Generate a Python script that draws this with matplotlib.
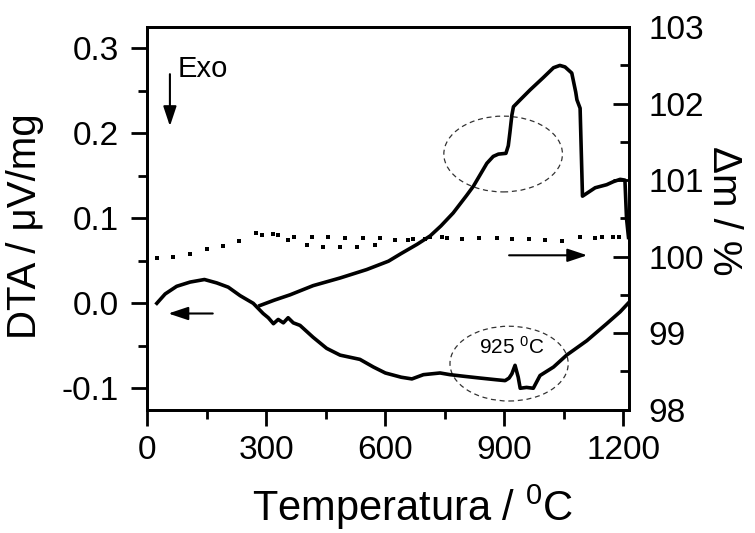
import matplotlib
matplotlib.use("Agg")
import matplotlib.pyplot as plt
from matplotlib.patches import Ellipse
from matplotlib.ticker import MultipleLocator

plt.rcParams["font.family"] = ["Liberation Sans", "DejaVu Sans"]
plt.rcParams["mathtext.fontset"] = "custom"
plt.rcParams["mathtext.rm"] = "Liberation Sans"
plt.rcParams["mathtext.it"] = "Liberation Sans"

# DTA curve (left axis)
dta_t = [24, 45, 74, 108, 144, 175, 204, 234, 267, 292, 305, 318, 330, 343, 355,
         368, 385, 418, 452, 486, 536, 570, 600, 640, 667, 696, 738, 763, 800,
         839, 880, 902, 912, 919, 927, 935, 940, 956, 973, 990, 1024, 1057, 1108,
         1158, 1192, 1212]
dta_v = [0.000, 0.011, 0.020, 0.025, 0.028, 0.024, 0.019, 0.009, 0.000, -0.012,
         -0.017, -0.024, -0.019, -0.023, -0.017, -0.023, -0.026, -0.040, -0.053,
         -0.061, -0.066, -0.075, -0.082, -0.087, -0.089, -0.084, -0.082, -0.084,
         -0.086, -0.088, -0.090, -0.091, -0.088, -0.083, -0.073, -0.087, -0.100,
         -0.099, -0.100, -0.085, -0.075, -0.061, -0.044, -0.024, -0.010, 0.000]

# mass change curve (right axis)
tg_t = [284, 320, 360, 418, 486, 553, 608, 640, 680, 713, 740, 771, 805, 822,
        839, 856, 872, 885, 904, 910, 914, 919, 923, 940, 965, 998, 1024, 1040,
        1053, 1070, 1080, 1083, 1091, 1097, 1129, 1158, 1175, 1192, 1204, 1208,
        1213]
tg_v = [99.36, 99.43, 99.50, 99.62, 99.72, 99.83, 99.94, 100.04, 100.16, 100.27,
        100.40, 100.57, 100.80, 100.92, 101.07, 101.22, 101.31, 101.34, 101.35,
        101.45, 101.62, 101.85, 101.96, 102.05, 102.18, 102.34, 102.47, 102.50,
        102.48, 102.40, 102.15, 102.05, 101.94, 100.79, 100.90, 100.94, 100.98,
        101.01, 101.00, 100.50, 100.25]

# dotted reference trace (right axis)
dot_t = [24, 66, 108, 150, 192, 232, 274, 288, 318, 330, 355, 370, 402, 414,
         444, 456, 486, 498, 528, 543, 574, 587, 624, 658, 671, 700, 713, 742,
         755, 793, 835, 881, 919, 961, 1003, 1045, 1091, 1129, 1146, 1175, 1189]
dot_v = [99.98, 99.99, 100.04, 100.10, 100.14, 100.21, 100.31, 100.28, 100.30,
         100.28, 100.22, 100.26, 100.15, 100.25, 100.13, 100.25, 100.12, 100.24,
         100.12, 100.24, 100.15, 100.24, 100.22, 100.22, 100.23, 100.23, 100.25,
         100.25, 100.24, 100.23, 100.24, 100.24, 100.23, 100.23, 100.22, 100.21,
         100.25, 100.24, 100.26, 100.25, 100.25]

fig = plt.figure(figsize=(7.55, 5.33), dpi=100)
ax = fig.add_axes([0.1951, 0.2317, 0.6384, 0.7173])
ax2 = ax.twinx()

ax.plot(dta_t, dta_v, color="black", lw=2.6)
ax2.plot(tg_t, tg_v, color="black", lw=2.6)
ax2.plot(dot_t, dot_v, ls="none", marker="s", ms=2.5, mew=0, color="black")

ax.set_xlim(0, 1215)
ax.set_ylim(-0.125, 0.325)
ax2.set_ylim(98, 103)

ax.xaxis.set_major_locator(MultipleLocator(300))
ax.xaxis.set_minor_locator(MultipleLocator(150))
ax.yaxis.set_major_locator(MultipleLocator(0.1))
ax.yaxis.set_minor_locator(MultipleLocator(0.05))
ax2.yaxis.set_major_locator(MultipleLocator(1))
ax2.yaxis.set_minor_locator(MultipleLocator(0.5))
ax.yaxis.set_major_formatter(matplotlib.ticker.FormatStrFormatter("%.1f"))

ax.tick_params(which="major", direction="out", length=11.5, width=2,
               labelsize=24, top=False, right=False)
ax.tick_params(which="minor", direction="out", length=6.5, width=2,
               top=False, right=False)
ax.tick_params(axis="y", pad=9)
ax.tick_params(axis="x", pad=7)
ax2.tick_params(which="major", direction="in", length=11.5, width=2,
                labelsize=24, pad=14)
ax2.tick_params(which="minor", direction="in", length=6.5, width=2)

for a in (ax, ax2):
    for s in a.spines.values():
        s.set_linewidth(2)

ax.set_xlabel("Temperatura / $^0$C", fontsize=30)
ax.xaxis.set_label_coords(0.55, -0.19)
ax.set_ylabel("DTA / μV/mg", fontsize=29)
ax.yaxis.set_label_coords(-0.215, 0.48)
ax2.set_ylabel("Δm / %", fontsize=29, rotation=270)
ax2.yaxis.set_label_coords(1.235, 0.52)

# annotations
arrow = dict(arrowstyle="-|>,head_length=0.6,head_width=0.2", color="black",
             lw=1.5, mutation_scale=20, shrinkA=0, shrinkB=0)
ax.annotate("", xy=(57, 0.2085), xytext=(57, 0.2697), arrowprops=arrow)
ax.text(76, 0.2666, "Exo", fontsize=21, va="baseline")
ax.annotate("", xy=(53, -0.012), xytext=(165, -0.012), arrowprops=arrow)
ax.annotate("", xy=(1109, 0.0565), xytext=(912, 0.0565), arrowprops=arrow)

ax.add_patch(Ellipse((897, 0.1757), 299, 0.0892, fill=False, ls=(0, (4, 3)),
                     lw=0.9, color="#333333"))
ax.add_patch(Ellipse((912, -0.071), 298, 0.088, fill=False, ls=(0, (4, 3)),
                     lw=0.9, color="#333333"))
ax.text(918, -0.0593, "925 $^0$C", fontsize=15, ha="center", va="baseline")

fig.savefig("out.png", dpi=100)
